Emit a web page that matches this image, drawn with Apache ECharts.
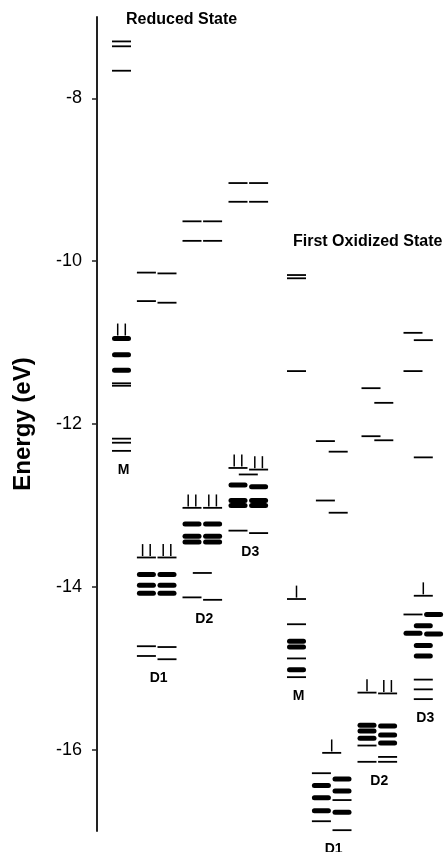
<!DOCTYPE html>
<html>
<head>
<meta charset="utf-8">
<title>Energy levels</title>
<script src="https://cdn.jsdelivr.net/npm/echarts@6/dist/echarts.min.js"></script>
<style>
  html, body { margin: 0; padding: 0; background: #fff; }
  #chart { width: 448px; height: 852px; }
</style>
</head>
<body>
<div id="chart"></div>
<script>
// y axis ticks (eV)
const energyTicks = [-16, -14, -12, -10, -8]
const stateTitles = ['Reduced State', 'First Oxidized State']
const speciesNames = ['M', 'D1', 'D2', 'D3']

// level: [subunit, energy (eV), weight (1 single, 2 near-degenerate), electrons drawn]
// subunit: m = single/shared, a / b = the two halves, qa / qb = staggered halves
const reducedM = [
  ['m', -7.30, 1, 0], ['m', -7.36, 1, 0], ['m', -7.66, 1, 0],
  ['m', -10.95, 2, 2], ['m', -11.15, 2, 0], ['m', -11.34, 2, 0],
  ['m', -11.50, 1, 0], ['m', -11.53, 1, 0],
  ['m', -12.18, 1, 0], ['m', -12.23, 1, 0], ['m', -12.33, 1, 0]
]
const reducedD1 = [
  ['a', -10.14, 1, 0], ['a', -10.49, 1, 0], ['a', -13.64, 1, 2], ['a', -13.85, 2, 0],
  ['a', -13.98, 2, 0], ['a', -14.08, 2, 0], ['a', -14.73, 1, 0], ['a', -14.85, 1, 0],
  ['b', -10.15, 1, 0], ['b', -10.51, 1, 0], ['b', -13.64, 1, 2], ['b', -13.85, 2, 0],
  ['b', -13.98, 2, 0], ['b', -14.08, 2, 0], ['b', -14.74, 1, 0], ['b', -14.89, 1, 0]
]
const reducedD2 = [
  ['a', -9.51, 1, 0], ['a', -9.75, 1, 0], ['a', -13.03, 1, 2], ['a', -13.23, 2, 0],
  ['a', -13.38, 2, 0], ['a', -13.45, 2, 0], ['a', -14.13, 1, 0],
  ['b', -9.51, 1, 0], ['b', -9.75, 1, 0], ['b', -13.03, 1, 2], ['b', -13.23, 2, 0],
  ['b', -13.38, 2, 0], ['b', -13.45, 2, 0], ['b', -14.16, 1, 0],
  ['m', -13.83, 1, 0]
]
const reducedD3 = [
  ['a', -9.04, 1, 0], ['a', -9.27, 1, 0], ['a', -12.54, 1, 2], ['a', -12.75, 2, 0],
  ['a', -12.94, 2, 0], ['a', -13.00, 2, 0], ['a', -13.31, 1, 0],
  ['b', -9.04, 1, 0], ['b', -9.27, 1, 0], ['b', -12.56, 1, 2], ['b', -12.77, 2, 0],
  ['b', -12.94, 2, 0], ['b', -13.00, 2, 0], ['b', -13.34, 1, 0],
  ['m', -12.62, 1, 0]
]
const oxidizedM = [
  ['m', -10.17, 1, 0], ['m', -10.21, 1, 0], ['m', -11.35, 1, 0],
  ['m', -14.15, 1, 1], ['m', -14.46, 1, 0], ['m', -14.67, 2, 0], ['m', -14.74, 2, 0],
  ['m', -14.88, 1, 0], ['m', -15.02, 2, 0], ['m', -15.11, 1, 0]
]
const oxidizedD1 = [
  ['qa', -12.21, 1, 0], ['qa', -12.94, 1, 0], ['qb', -12.34, 1, 0], ['qb', -13.09, 1, 0],
  ['m', -16.04, 1, 1],
  ['a', -16.29, 1, 0], ['a', -16.44, 2, 0], ['a', -16.59, 2, 0], ['a', -16.75, 2, 0], ['a', -16.88, 1, 0],
  ['b', -16.36, 2, 0], ['b', -16.51, 2, 0], ['b', -16.62, 1, 0], ['b', -16.77, 2, 0], ['b', -16.99, 1, 0]
]
const oxidizedD2 = [
  ['qa', -11.56, 1, 0], ['qa', -12.15, 1, 0], ['qb', -11.74, 1, 0], ['qb', -12.20, 1, 0],
  ['a', -15.30, 1, 1], ['a', -15.70, 2, 0], ['a', -15.77, 2, 0], ['a', -15.86, 2, 0],
  ['a', -15.95, 1, 0], ['a', -16.15, 1, 0],
  ['b', -15.31, 1, 2], ['b', -15.71, 2, 0], ['b', -15.82, 2, 0], ['b', -15.92, 2, 0],
  ['b', -16.09, 1, 0], ['b', -16.15, 1, 0]
]
const oxidizedD3 = [
  ['a', -10.88, 1, 0], ['a', -11.35, 1, 0], ['m', -10.97, 1, 0], ['m', -12.41, 1, 0],
  ['m', -14.11, 1, 1],
  ['a', -14.34, 1, 0], ['b', -14.34, 2, 0], ['m', -14.48, 2, 0],
  ['a', -14.57, 2, 0], ['b', -14.58, 2, 0], ['m', -14.72, 2, 0], ['m', -14.85, 2, 0],
  ['m', -15.14, 1, 0], ['m', -15.26, 1, 0], ['m', -15.38, 1, 0]
]

// layout (hidden x axis, one unit = one pixel right of the y axis)
const STATE_X = [24.5, 199.5]
const SPECIES_DX = { M: 0, D1: 35.2, D2: 80.8, D3: 126.8 }
const SUB_DX = { m: 0, a: -10.3, b: 10.3, qa: -6.3, qb: 6.5 }
const LEVEL_LEN = 19
const FONT = '"Liberation Sans", Arial, Helvetica, sans-serif'

const groups = [
  [0, 'M', reducedM], [0, 'D1', reducedD1], [0, 'D2', reducedD2], [0, 'D3', reducedD3],
  [1, 'M', oxidizedM], [1, 'D1', oxidizedD1], [1, 'D2', oxidizedD2], [1, 'D3', oxidizedD3]
]

const levelData = []
const labelData = []
groups.forEach(([state, name, levels]) => {
  const cx = STATE_X[state] + SPECIES_DX[name]
  levels.forEach(([sub, e, w, el]) => {
    levelData.push([cx + SUB_DX[sub], e, w, el])
  })
  const lowest = Math.min(...levels.map(l => l[1]))
  labelData.push({ name, value: [cx, lowest] })
})

const chart = echarts.init(document.getElementById('chart'))

chart.setOption({
  backgroundColor: '#fff',
  animation: false,
  title: [
    { text: stateTitles[0], left: 126, top: 12, padding: 0,
      textStyle: { fontFamily: FONT, fontSize: 16, fontWeight: 'bold', color: '#000' } },
    { text: stateTitles[1], left: 293, top: 234, padding: 0,
      textStyle: { fontFamily: FONT, fontSize: 16, fontWeight: 'bold', color: '#000' } }
  ],
  grid: { left: 97, right: 0, top: 17, bottom: 21 },
  xAxis: { type: 'value', min: 0, max: 351, show: false },
  yAxis: {
    type: 'value',
    min: -17,
    max: -7,
    name: 'Energy (eV)',
    nameLocation: 'middle',
    nameGap: 62,
    nameTextStyle: { fontFamily: FONT, fontSize: 24, fontWeight: 'bold', color: '#000' },
    axisLine: { show: true, lineStyle: { color: '#222', width: 2 } },
    axisTick: { show: true, inside: false, length: 5, customValues: energyTicks,
      lineStyle: { color: '#222', width: 1.5 } },
    axisLabel: { customValues: energyTicks, margin: 15, fontFamily: FONT, fontSize: 18, color: '#000' },
    splitLine: { show: false }
  },
  series: [{
    type: 'custom',
    data: levelData,
    renderItem: function (params, api) {
      const c = api.coord([api.value(0), api.value(1)])
      const half = api.size([LEVEL_LEN / 2, 0])[0]
      const thick = api.value(2) > 1
      const lw = thick ? 5 : 1.8
      const children = []
      if (thick) {
        children.push({
          type: 'line',
          shape: { x1: c[0] - half + lw / 2, y1: c[1], x2: c[0] + half - lw / 2, y2: c[1] },
          style: { stroke: '#000', lineWidth: lw, lineCap: 'round' }
        })
      } else {
        children.push({
          type: 'line',
          shape: { x1: c[0] - half, y1: c[1], x2: c[0] + half, y2: c[1] },
          style: { stroke: '#000', lineWidth: lw }
        })
      }
      // electrons (vertical strokes sitting on the level)
      const n = api.value(3)
      const offs = n === 2 ? [-3.8, 3.8] : n === 1 ? [0] : []
      offs.forEach(o => {
        children.push({
          type: 'line',
          shape: { x1: c[0] + o, y1: c[1] - lw / 2 - 0.5, x2: c[0] + o, y2: c[1] - lw / 2 - 12.5 },
          style: { stroke: '#000', lineWidth: 1.5 }
        })
      })
      return { type: 'group', children }
    }
  }, {
    type: 'custom',
    data: labelData,
    renderItem: function (params, api) {
      const c = api.coord([api.value(0), api.value(1)])
      return {
        type: 'text',
        x: c[0] + 2,
        y: c[1] + 19,
        style: {
          text: labelData[params.dataIndex].name,
          fontFamily: FONT,
          fontSize: 14,
          fontWeight: 'bold',
          fill: '#000',
          align: 'center',
          verticalAlign: 'middle'
        }
      }
    }
  }]
})
</script>
</body>
</html>
